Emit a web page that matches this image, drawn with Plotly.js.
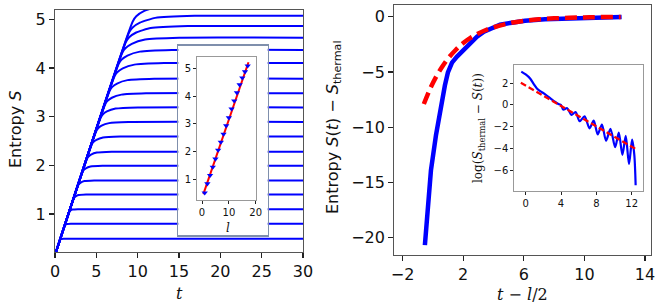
<!DOCTYPE html>
<html><head><meta charset="utf-8">
<script src="https://cdn.plot.ly/plotly-3.0.1.min.js"></script>
<style>html,body{margin:0;padding:0;background:#fff}#chart{width:664px;height:306px}</style>
</head><body><div id="chart"></div>
<script>
// ---------- Left panel: entropy growth S(t) for subsystem sizes l = 1..18 ----------
const curvesT = [
  [0,0.59,0.62,0.66,0.77,1.04,30],
  [0,1.16,1.20,1.28,1.46,1.91,30],
  [0,1.71,1.77,1.88,2.13,2.76,30],
  [0,2.25,2.33,2.50,2.85,3.75,30],
  [0,2.78,2.88,3.11,3.56,4.73,30],
  [0,3.33,3.46,3.73,4.29,5.73,30],
  [0,3.86,4.02,4.36,5.06,6.86,30],
  [0,4.43,4.61,5.01,5.81,7.88,30],
  [0,4.98,5.19,5.63,6.54,8.88,30],
  [0,5.53,5.77,6.28,7.33,10.03,30],
  [0,6.06,6.32,6.88,8.04,11.01,30],
  [0,6.61,6.90,7.51,8.77,12.01,30],
  [0,7.20,7.52,8.20,9.60,13.20,30],
  [0,7.69,8.03,8.76,10.27,14.14,30],
  [0,8.14,8.51,9.29,10.90,15.04,30],
  [0,8.57,8.97,9.82,11.57,16.07,30],
  [0,8.94,9.36,10.27,12.12,16.89,30],
  [0,9.39,9.83,10.80,12.70,17.80,30]
];
const curvesS = [
  [0.16,0.46,0.469,0.478,0.486,0.49,0.49],
  [0.16,0.75,0.765,0.78,0.794,0.80,0.80],
  [0.16,1.03,1.051,1.072,1.092,1.10,1.10],
  [0.16,1.31,1.337,1.364,1.389,1.40,1.40],
  [0.16,1.58,1.613,1.646,1.677,1.69,1.69],
  [0.16,1.86,1.899,1.938,1.974,1.99,1.99],
  [0.16,2.13,2.175,2.22,2.262,2.28,2.28],
  [0.16,2.42,2.471,2.522,2.570,2.59,2.59],
  [0.16,2.70,2.757,2.814,2.867,2.89,2.89],
  [0.16,2.98,3.043,3.106,3.165,3.19,3.19],
  [0.16,3.25,3.319,3.388,3.452,3.48,3.48],
  [0.16,3.53,3.605,3.68,3.75,3.78,3.78],
  [0.16,3.83,3.911,3.992,4.068,4.10,4.10],
  [0.16,4.08,4.167,4.254,4.335,4.37,4.37],
  [0.16,4.31,4.403,4.496,4.583,4.62,4.62],
  [0.16,4.53,4.629,4.728,4.82,4.86,4.86],
  [0.16,4.72,4.825,4.93,5.028,5.07,5.07],
  [0.16,4.95,5.06,5.17,5.27,5.31,5.31]
];
const leftXTicks = [0,5,10,15,20,25,30];
const leftYTicks = [1,2,3,4,5];

// ---------- Left inset: saturation entropy vs l ----------
const insetL = [1,2,3,4,5,6,7,8,9,10,11,12,13,14,15,16,17];
const insetS = [0.51,0.84,1.14,1.44,1.73,2.05,2.34,2.63,2.93,3.22,3.54,3.83,4.12,4.41,4.66,4.88,5.09];
const fitL = [0.5,17.3];
const fitS = [0.46,5.22];
const insetXTicks = [0,10,20];
const insetYTicks = [1,2,3,4,5];

// ---------- Right panel: S(t) - S_thermal vs t - l/2 ----------
const collapseX = [-0.53,-0.33,-0.13,0.20,0.53,0.79,0.99,1.26,1.59,1.98,2.44,2.91,3.37,3.90,4.43,5.22,6.08,7.40,9.71,12.46];
const collapseY = [-20.67,-16.6,-13.9,-10.74,-8.03,-6.23,-5.05,-4.15,-3.61,-3.07,-2.35,-1.81,-1.35,-0.99,-0.72,-0.54,-0.36,-0.23,-0.12,-0.03];
const fitX = [-0.6,-0.2,0.2,0.6,1.0,1.5,2.0,2.5,3.0,3.5,4.0,5.0,6.0,7.0,8.0,9.0,10.0,11.0,12.4];
const fitY = [-7.9,-6.57,-5.47,-4.55,-3.78,-3.01,-2.39,-1.90,-1.51,-1.20,-0.96,-0.60,-0.38,-0.24,-0.15,-0.096,-0.061,-0.038,-0.020];
const rightXTicks = [-2,2,6,10,14];
const rightYTicks = [-20,-15,-10,-5,0];

// ---------- Right inset: log(S_thermal - S(t)) ----------
const logX = [-0.5,0.0,0.5,0.9,1.3,1.7,2.1,2.5,2.9,3.3,3.7,4.0,4.25,4.7,5.18,5.65,6.11,6.67,7.23,7.7,8.16,8.63,9.1,9.6,10.13,10.54,10.95,11.33,11.7,12.05,12.3,12.45];
const logY = [3.08,2.82,2.45,1.95,1.5,1.25,1.05,0.8,0.55,0.3,0.1,0.0,-0.42,-0.3,-0.92,-0.66,-1.5,-1.05,-2.15,-1.45,-2.72,-1.8,-3.3,-2.2,-3.9,-2.55,-4.6,-2.85,-5.45,-3.2,-4.6,-7.4];
const logFitX = [-0.55,12.4];
const logFitY = [2.05,-4.03];
const logXTicks = [0,4,8,12];
const logYTicks = [-6,-4,-2,0,2];

// ---------- build ----------
const W = 664, H = 306;
const dx = (a,b) => [a/W, b/W];
const dy = (top,bottom) => [1-bottom/H, 1-top/H];
const BLUE = '#0000ff', RED = '#ff0000';

const traces = [];
curvesT.forEach((t,i) => {
  traces.push({x:t, y:curvesS[i], xaxis:'x', yaxis:'y', type:'scatter', mode:'lines',
    line:{color:BLUE, width:2, shape:'spline', smoothing:0.5}, showlegend:false, hoverinfo:'skip'});
});
// frame subplot placeholder (white box behind left inset)
traces.push({x:[], y:[], xaxis:'x2', yaxis:'y2', type:'scatter', mode:'lines', showlegend:false, hoverinfo:'skip'});
traces.push({x:fitL, y:fitS, xaxis:'x3', yaxis:'y3', type:'scatter', mode:'lines',
  line:{color:RED, width:2}, showlegend:false, hoverinfo:'skip'});
traces.push({x:insetL, y:insetS, xaxis:'x3', yaxis:'y3', type:'scatter', mode:'markers',
  marker:{symbol:'triangle-down', size:5.5, color:BLUE}, showlegend:false, hoverinfo:'skip'});
traces.push({x:collapseX, y:collapseY, xaxis:'x4', yaxis:'y4', type:'scatter', mode:'lines',
  line:{color:BLUE, width:4.5}, showlegend:false, hoverinfo:'skip'});
traces.push({x:fitX, y:fitY, xaxis:'x4', yaxis:'y4', type:'scatter', mode:'lines',
  line:{color:RED, width:4.5, dash:'12px,6px', shape:'spline'}, showlegend:false, hoverinfo:'skip'});
traces.push({x:logX, y:logY, xaxis:'x5', yaxis:'y5', type:'scatter', mode:'lines',
  line:{color:BLUE, width:2.2, shape:'spline', smoothing:0.8}, showlegend:false, hoverinfo:'skip'});
traces.push({x:logFitX, y:logFitY, xaxis:'x5', yaxis:'y5', type:'scatter', mode:'lines',
  line:{color:RED, width:2.2, dash:'6px,3px'}, showlegend:false, hoverinfo:'skip'});

const mainAx = {showline:true, mirror:true, linecolor:'#555', linewidth:1.2,
  ticks:'outside', ticklen:5, tickwidth:1.2, tickcolor:'#222',
  showgrid:false, zeroline:false, fixedrange:true,
  tickfont:{family:'DejaVu Sans', size:16, color:'#111'}};
const insetAx = Object.assign({}, mainAx, {linecolor:'#999', linewidth:1, ticklen:3, tickwidth:1,
  tickfont:{family:'DejaVu Sans', size:10, color:'#111'}});

const layout = {
  width:W, height:H, margin:{l:0,r:0,t:0,b:0},
  paper_bgcolor:'#fff', plot_bgcolor:'#fff', showlegend:false,
  xaxis: Object.assign({}, mainAx, {domain:dx(55,303), range:[0,30], tickvals:leftXTicks, anchor:'y'}),
  yaxis: Object.assign({}, mainAx, {domain:dy(10,252), range:[0.22,5.19], tickvals:leftYTicks, anchor:'x'}),
  xaxis2: {domain:dx(178.3,267.7), range:[0,1], anchor:'y2', showline:true, mirror:true, linecolor:'#7f8fac', linewidth:1.5,
    showticklabels:false, ticks:'', showgrid:false, zeroline:false, fixedrange:true},
  yaxis2: {domain:dy(45.7,235), range:[0,1], anchor:'x2', showline:true, mirror:true, linecolor:'#7f8fac', linewidth:1.5,
    showticklabels:false, ticks:'', showgrid:false, zeroline:false, fixedrange:true},
  xaxis3: Object.assign({}, insetAx, {domain:dx(197,256), range:[-1.87,20.1], tickvals:insetXTicks, anchor:'y3'}),
  yaxis3: Object.assign({}, insetAx, {domain:dy(56.7,200), range:[0.25,5.42], tickvals:insetYTicks, anchor:'x3'}),
  xaxis4: Object.assign({}, mainAx, {domain:dx(394.3,650.7), range:[-2.55,14.38], tickvals:rightXTicks, anchor:'y4'}),
  yaxis4: Object.assign({}, mainAx, {domain:dy(5,255), range:[-21.57,1.06], tickvals:rightYTicks, anchor:'x4'}),
  xaxis5: Object.assign({}, insetAx, {domain:dx(514.3,642.7), range:[-1.29,13.25], tickvals:logXTicks, anchor:'y5'}),
  yaxis5: Object.assign({}, insetAx, {domain:dy(65,190.7), range:[-7.91,3.69], tickvals:logYTicks, anchor:'x5'}),
  annotations: [
    {xref:'paper', yref:'paper', x:15/W, y:1-130/H, textangle:-90, showarrow:false, xanchor:'center', yanchor:'middle',
      text:'Entropy <i>S</i>', font:{family:'DejaVu Sans', size:16, color:'#111'}},
    {xref:'paper', yref:'paper', x:179/W, y:1-293/H, showarrow:false, xanchor:'center', yanchor:'middle',
      text:'<i>t</i>', font:{family:'DejaVu Serif', size:16, color:'#111'}},
    {xref:'paper', yref:'paper', x:228/W, y:1-228/H, showarrow:false, xanchor:'center', yanchor:'middle',
      text:'<i>l</i>', font:{family:'DejaVu Serif', size:12, color:'#111'}},
    {xref:'paper', yref:'paper', x:333/W, y:1-127/H, textangle:-90, showarrow:false, xanchor:'center', yanchor:'middle',
      text:'Entropy <i>S</i>(<i>t</i>) − <i>S</i><sub>thermal</sub>', font:{family:'DejaVu Sans', size:16, color:'#111'}},
    {xref:'paper', yref:'paper', x:522/W, y:1-294/H, showarrow:false, xanchor:'center', yanchor:'middle',
      text:'<i>t</i> − <i>l</i>/2', font:{family:'DejaVu Serif', size:16, color:'#111'}},
    {xref:'paper', yref:'paper', x:479/W, y:1-128/H, textangle:-90, showarrow:false, xanchor:'center', yanchor:'middle',
      text:'log(<i>S</i><sub>thermal</sub> − <i>S</i>(<i>t</i>))', font:{family:'DejaVu Serif', size:12, color:'#111'}}
  ]
};

Plotly.newPlot('chart', traces, layout, {staticPlot:true, displayModeBar:false});
</script></body></html>
